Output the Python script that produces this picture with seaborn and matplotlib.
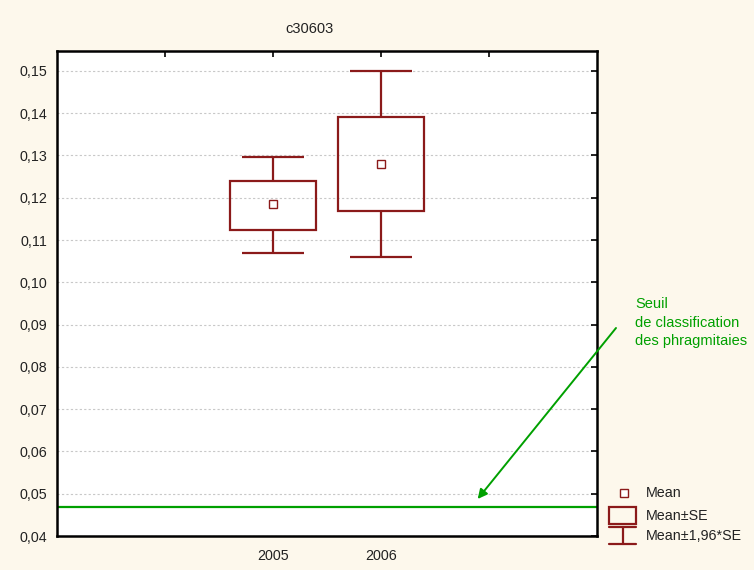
import numpy as np
import pandas as pd
import matplotlib
matplotlib.use("Agg")
import matplotlib.pyplot as plt
import seaborn as sns
from matplotlib.lines import Line2D
from matplotlib.patches import Rectangle
from matplotlib.ticker import FuncFormatter

# data
years = ["2005", "2006"]
means = [0.1184, 0.1279]
se_low = [0.1123, 0.1168]
se_high = [0.1239, 0.1391]
ci_low = [0.1069, 0.1059]
ci_high = [0.1296, 0.1499]
seuil = 0.0469

dark_red = "#8b1a1a"
green = "#00a000"
cream = "#fdf8ec"

sns.set_style("white")
plt.rcParams["font.family"] = ["Liberation Sans", "DejaVu Sans"]

W, H = 754, 570


def fx(px):
    return px / W


def fy(py):
    return 1 - py / H


fig = plt.figure(figsize=(W / 100, H / 100), dpi=100)
fig.patch.set_facecolor(cream)
ax = fig.add_axes([fx(57), fy(536), (597 - 57) / W, (536 - 51) / H])
ax.set_facecolor("white")

df = pd.DataFrame({"year": years, "mean": means, "se_low": se_low, "se_high": se_high,
                   "ci_low": ci_low, "ci_high": ci_high})
pos = np.arange(len(df))

# whiskers (mean +- 1.96*SE)
ax.vlines(pos, df["ci_low"], df["se_low"], color=dark_red, lw=1.6, zorder=3)
ax.vlines(pos, df["se_high"], df["ci_high"], color=dark_red, lw=1.6, zorder=3)
ax.hlines(df["ci_low"], pos - 0.285, pos + 0.285, color=dark_red, lw=1.6, zorder=3)
ax.hlines(df["ci_high"], pos - 0.285, pos + 0.285, color=dark_red, lw=1.6, zorder=3)

# boxes (mean +- SE)
ax.bar(pos, df["se_high"] - df["se_low"], bottom=df["se_low"], width=0.8,
       facecolor="none", edgecolor=dark_red, linewidth=1.6, zorder=3)

# means
sns.pointplot(data=df, x="year", y="mean", linestyle="none", marker="s",
              markersize=6, markerfacecolor="white", markeredgecolor=dark_red,
              markeredgewidth=1.0, color=dark_red, errorbar=None, ax=ax, zorder=4)

# threshold line + annotation
ax.axhline(seuil, color=green, lw=1.6, zorder=2)
ax.annotate("", xy=(1.895, 0.04875), xytext=(616, H - 328), textcoords="figure pixels",
            annotation_clip=False,
            arrowprops=dict(arrowstyle="-|>", color=green, lw=1.4, mutation_scale=14,
                            shrinkA=0, shrinkB=0))
fig.text(fx(635), fy(297), "Seuil\nde classification\ndes phragmitaies", color=green,
         fontsize=10.5, va="top", ha="left", linespacing=1.42)

ax.set_xlim(-2, 3)
ax.set_ylim(0.04, 0.1547)
ax.set_yticks(np.arange(0.04, 0.1501, 0.01))
ax.yaxis.set_major_formatter(FuncFormatter(lambda v, p: f"{v:.2f}".replace(".", ",")))
ax.set_xticks([-1, 0, 1, 2])
ax.set_xticklabels(["", "2005", "2006", ""])
ax.set_xlabel("")
ax.set_ylabel("")
ax.tick_params(axis="both", direction="in", length=4, width=1.2, labelsize=10.3,
               top=True, right=True, colors="black", labelcolor="#222222")
ax.tick_params(axis="y", pad=7)
ax.tick_params(axis="x", pad=9)

ax.grid(axis="y", color="#c8c8c8", linestyle=(0, (2, 2)), linewidth=0.8)
ax.grid(axis="x", visible=False)
for s in ax.spines.values():
    s.set_color("black")
    s.set_linewidth(1.8)

fig.text(fx(310), fy(29), "c30603", ha="center", va="center", fontsize=10.5, color="#222222")

# legend drawn by hand to match the original
fig.add_artist(Line2D([fx(624)], [fy(493)], marker="s", markersize=6, markerfacecolor="white",
                      markeredgecolor=dark_red, markeredgewidth=1.0, linestyle="none",
                      transform=fig.transFigure))
fig.add_artist(Rectangle((fx(609), fy(523.5)), (636 - 609) / W, (523.5 - 506.5) / H,
                         facecolor="none", edgecolor=dark_red, linewidth=1.6,
                         transform=fig.transFigure))
for yy in (527, 544):
    fig.add_artist(Line2D([fx(609), fx(636)], [fy(yy), fy(yy)], color=dark_red, lw=1.6,
                          transform=fig.transFigure))
fig.add_artist(Line2D([fx(622.5), fx(622.5)], [fy(527), fy(544)], color=dark_red, lw=1.6,
                      transform=fig.transFigure))
for label, yy in [("Mean", 493), ("Mean±SE", 516), ("Mean±1,96*SE", 535.5)]:
    fig.text(fx(645.5), fy(yy), label, ha="left", va="center", fontsize=10.3, color="#222222")

fig.savefig("out.png", dpi=100, facecolor=cream)
